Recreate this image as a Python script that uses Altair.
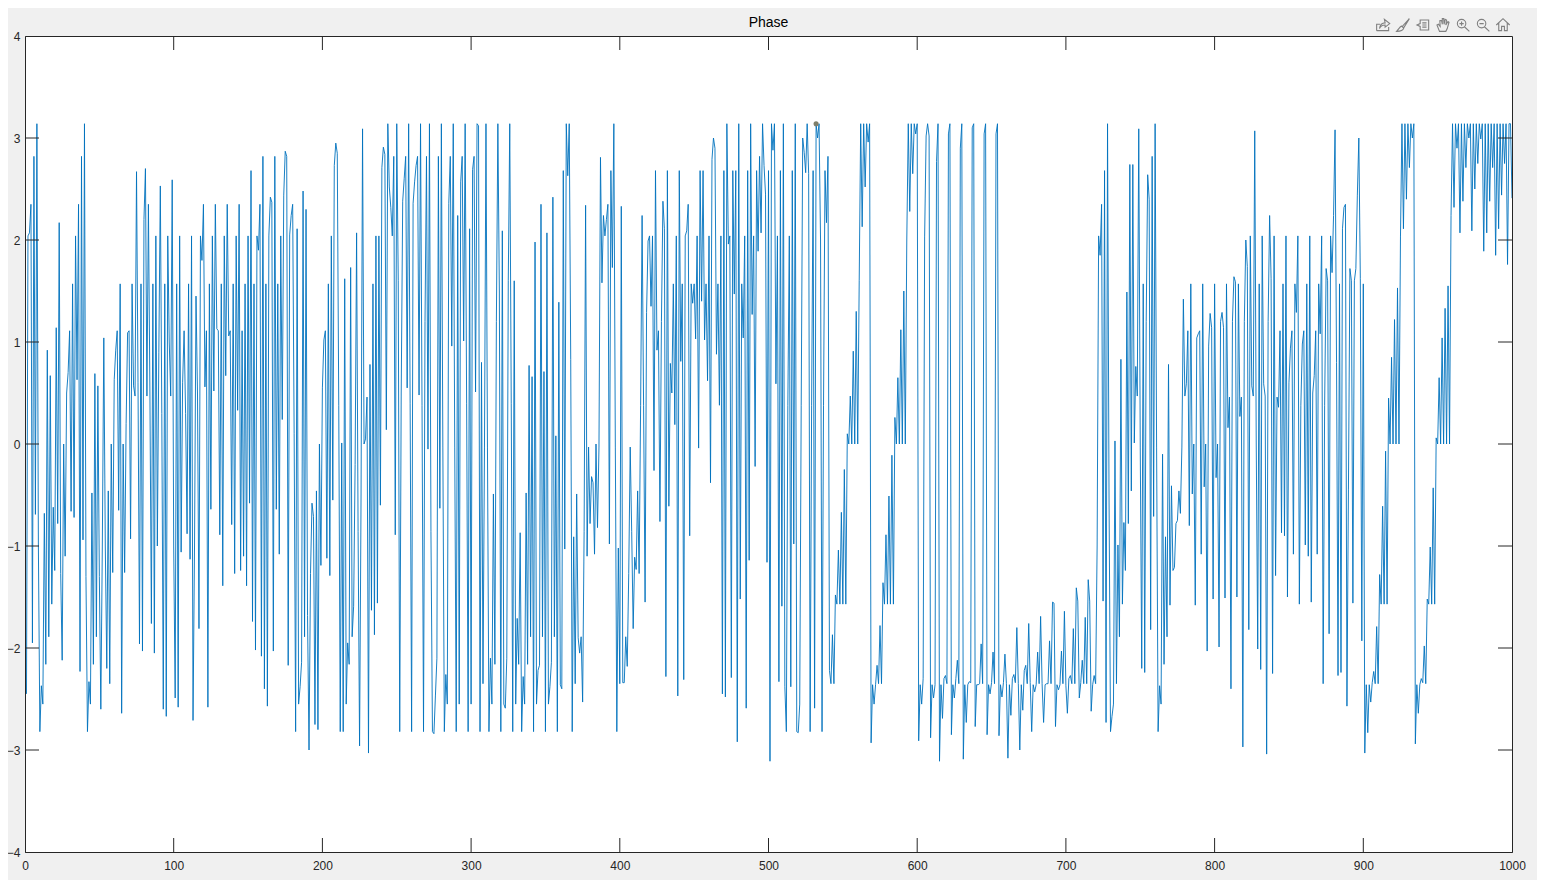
import altair as alt
import pandas as pd

phase_1 = [
-2.45,2.04,2.07,2.35,-1.95,2.82,-0.69,3.14,-1.0,-2.82,
-2.37,-2.55,-0.68,-2.16,0.92,-1.89,0.67,-1.57,-0.62,-1.24,
1.14,-0.78,2.17,-1.27,-2.12,0,-1.1,0.5,0.7,1.11,
-0.66,1.57,-0.72,2.04,0.63,2.35,-2.23,2.82,-0.94,3.14,
-1.3,-2.82,-2.33,-2.55,-0.48,-2.16,0.69,-1.89,0.57,-1.3,
-2.6,-1.0,1.04,-1.0,-2.2,-0.46,-2.35,0,-1.26,0.63,
0.92,1.11,-0.65,1.57,-2.64,0,-1.26,0.2,1.09,1.11,
-0.93,1.57,0.57,0.47,2.67,0.6,-1.96,1.57,-2.03,2.2,
2.7,0.47,2.35,0.5,-1.76,1.57,-2.05,2.04,-1,0.9,
2.53,0.3,-2.6,1.57,-2.67,2.04,1,0.47,2.59,-1,
-2.49,1.57,-2.58,2.04,-1.06,0.6,1.11,0.3,-0.88,1.57,
-1.13,2.04,-2.71,-1,1.45,0.5,-1.81,2.04,1.8,2.35,
0.56,1.11,-2.58,1.57,-0.64,2.04,0.52,2.35,1.13,1.11,
-0.89,1.57,-1.39,2.04,0.67,2.35,1.06,1.11,-0.79,1.57,
-1.27,2.04,0.33,2.35,-1.24,1.11,-1.1,1.57,-1.39,2.04,
-0.58,2.68,-1.74,1.57,-2.02,2.04,1.9,2.35,-2.08,2.82,
-2.4,1.57,-2.57,2.04,2.42,2.37,-2.03,2.82,-0.64,1.57,
-1.08,2.04,0.24,2.44,2.87,2.82,-2.17,2.05,2.24,2.35,
0.1,-2.82,2.11,-2.55,-2.38,-2.14,2.48,-1.89,2.3,-1.68,
-3.0,-1.27,-0.58,-0.71,-2.75,-0.46,-2.8,0,-1.19,0.55,
]
phase_2 = [
1.02,1.11,-1.12,1.57,-1.29,2.04,-0.55,2.73,2.95,2.85,
0.38,-2.82,0.01,-2.82,1.62,-2.55,-1.95,-2.16,1.73,-1.89,
-1.59,-0.2,2.07,-0.86,-2.96,-0.5,3.09,0,0.05,0.46,
-3.03,0.78,-1.63,1.57,-1.87,2.04,-1.56,2.04,-0.6,2.71,
2.91,2.84,0.14,3.14,2.52,2.32,2.04,2.82,-0.89,3.14,
1.6,-2.82,0.5,2.38,2.6,2.82,0.55,3.14,0.4,-2.82,
2.36,2.57,2.73,2.82,0.48,3.14,0.38,-2.82,1.2,2.82,
-0.05,3.14,-0.86,-2.82,-2.84,-2.47,-2.1,2.82,-0.63,3.14,
-0.03,-2.82,-2.26,-2.55,2.36,2.82,0.96,3.14,-0.03,-2.82,
2.24,-2.55,2.57,2.82,1.01,3.14,0.4,-2.82,2.11,-2.55,
2.69,2.82,0.51,3.14,3.12,-2.82,0.8,-2.35,-0.03,3.14,
-0.03,-2.82,-2.1,-2.55,-0.49,-2.16,1.2,3.14,1.5,-2.82,
2.09,-2.55,-2.59,-2.1,1.6,3.14,0.4,-2.82,1.6,-2.55,
-1.71,-2.16,-0.87,-2.82,-2.28,-2.55,-0.48,-2.16,0.77,-1.89,
0.66,-2.82,1.98,-2.55,-2.22,-2.17,2.35,-1.89,0.71,-2.82,
2.07,-2.55,-2.38,-2.14,2.42,-1.89,0.08,-2.82,1.39,-2.36,
-2.4,2.68,-1.03,3.14,2.63,3.14,0.83,-2.82,-0.91,-2.35,
-0.49,-1.9,-2.05,-1.89,-2.53,-0.86,2.34,-1.1,-0.03,-0.78,
-0.32,-0.38,-1.08,0,-0.82,-0.03,2.81,1.58,2.24,2.04,
2.2,2.35,-0.98,2.68,1.73,3.14,-0.03,-2.82,-1.02,-2.35,
]
phase_3 = [
2.33,-2.34,-2.34,-1.89,-2.18,-1.27,-0.03,-0.86,-1.81,-1.11,
-1.23,-0.46,-1.27,0.38,2.24,0.38,-1.55,1.29,1.99,2.04,
1.35,2.04,-0.26,2.68,0.92,1.11,-0.76,1.2,2.38,2.11,
-2.28,2.68,-0.61,0.79,0.5,1.57,0.19,2.04,-2.47,2.68,
0.81,1.57,-2.31,2.04,2.09,2.35,-0.9,1.57,1.38,1.57,
1.03,2.04,-0.04,2.68,1.4,2.68,1.02,1.57,0.62,2.04,
-0.38,2.79,3,2.9,0.88,1.57,0.38,2.04,-2.45,2.68,
-2.48,3.14,1.96,2.04,-2.29,2.68,1.47,2.68,-2.92,3.14,
-1.52,1.57,1.04,2.04,-2.59,2.68,-1.14,3.14,1.27,2.04,
-0.22,2.68,1.89,2.82,2.07,3.14,2.73,2.45,-1.16,2.68,
-3.11,3.14,2.88,3.14,0.59,2.04,-2.33,2.68,-1.59,3.14,
-2.38,-2.82,0.38,2.04,-2.38,2.68,-0.98,3.14,-2.82,-2.83,
-2.55,0.38,3,2.86,2.66,3.14,2.65,-2.82,0.38,2.68,
-2.59,3.14,3,3.14,2.0,-2.82,0.38,2.68,2.17,2.82,
-2.22,-2.35,-1.87,-2.35,-1.48,-1.57,-1.04,-1.57,-0.67,-1.57,
-0.25,-1.57,0.1,0,0.47,0,0.91,0,1.3,0,
1.6,3.14,2.13,3.14,2.52,3.14,2.96,3.14,-2.93,-2.36,
-2.55,-2.36,-2.17,-2.35,-1.78,-2.35,-1.36,-1.57,-0.89,-1.57,
-0.51,-1.57,-0.11,-1.57,0.26,0,0.65,0,1.12,0,
1.5,0,2.0,3.14,2.28,3.14,2.65,3.14,3.04,3.14,
]
phase_4 = [
-2.91,-2.36,-2.55,-2.3,2.03,3.02,3.14,3.02,-2.88,-2.36,
-2.49,-2.36,2.77,3.14,-3.11,-2.36,-2.69,-2.3,-2.27,-2.35,
3.04,3.14,-2.85,-2.36,-2.49,-2.3,-2.12,-2.35,2.9,3.14,
-3.09,-2.36,-2.73,-2.36,-2.33,-2.34,3.1,3.14,-2.77,-2.36,
-2.36,-2.35,-1.96,-2.35,3.04,3.14,-2.85,-2.36,-2.45,-2.34,
-2.04,-2.35,3.04,3.14,-2.86,-2.36,-2.48,-2.34,-2.06,-2.35,
-3.08,-2.36,-2.66,-2.3,-2.26,-2.34,-1.8,-2.35,-3,-2.36,
-2.61,-2.22,-2.17,-2.35,-1.76,-2.34,-2.82,-2.36,-2.43,-2.36,
-2.04,-2.35,-1.69,-2.35,-2.73,-2.36,-2.35,-2.35,-1.93,-2.35,
-1.55,-1.56,-2.77,-2.36,-2.41,-2.36,-2.03,-2.35,-1.64,-2.37,
-2.64,-2.3,-2.27,-2.35,-1.81,-2.35,-1.41,-1.54,-2.49,-2.34,
-2.12,-2.35,-1.7,-2.35,-1.33,-1.54,-2.62,-2.36,-2.27,-2.35,
-1.0,2.04,1.85,2.35,-1.54,2.68,-2.73,3.14,-0.5,-2.82,
-2.67,-2.55,0.03,-2.35,-0.99,-1.89,0.83,-1.57,-0.77,-1.24,
1.49,-0.78,2.74,-0.46,2.74,0.01,0.76,0.47,3.09,-0.03,
-2.2,1.57,-2.24,1.2,2.64,2.4,-1.82,2.82,-0.71,3.14,
-0.03,-2.82,-2.37,-2.55,-0.1,-2.16,-0.91,-1.89,0.78,-1.58,
-0.41,-1.24,-1.21,-0.78,-0.75,-0.46,-0.68,-0.03,1.42,0.47,
0.59,1.11,-0.8,1.57,-0.49,0,-1.58,1.04,1.08,1.11,
-1.08,1.57,-0.42,0,-2.03,0.96,1.28,1.14,-1.52,1.57,
]
phase_5 = [
-0.33,0,-1.99,1.2,1.29,1.14,-1.51,1.57,0.16,0.46,
-2.4,1.2,1.64,1.59,-1.5,1.57,0.27,0.46,-2.97,1.2,
2.0,1.74,-1.82,2.04,0.57,0.47,3.07,0,-2.01,1.57,
-2.21,2.04,0.59,0.47,-3.04,1.2,2.24,1.62,-2.25,2.04,
-1.29,0.46,0.36,1.11,-0.87,1.57,-0.9,2.04,-1.5,0.6,
0.94,1.11,-1.08,1.57,1.29,2.04,-1.57,0.38,0.98,1.11,
-0.99,1.57,-1.1,2.04,-1.55,0.5,0.67,1.11,-1.08,1.57,
1.08,2.04,-2.35,0.38,1.72,1.6,-1.86,2.04,1.68,2.24,
3.08,0.8,-2.27,1.57,-2.24,2.11,2.32,2.35,-2.57,-0.45,
1.72,1.6,-1.56,1.6,1.72,2.44,3,1.62,-1.93,1.57,
-3.03,-2.36,-2.83,-2.36,-2.53,-2.34,-2.23,-2.35,-1.79,-2.35,
-1.28,-1.57,-0.61,-1.57,-0.07,-1.57,0.45,0,0.85,0,
1.22,0,1.53,0,2.03,3.14,2.11,3.14,2.4,3.14,
2.71,3.14,3,3.14,-2.94,-2.36,-2.64,-2.36,-2.3,-2.34,
-1.98,-2.35,-1.52,-1.57,-1.01,-1.57,-0.43,-1.57,0.06,0,
0.65,0,1.04,0,1.33,0,1.55,0,2.24,3.14,
2.32,3.14,2.9,3.14,2.07,3.14,2.38,3.14,2.71,3.14,
3,3.14,2.09,3.14,2.5,3.14,2.75,3.14,2.99,3.14,
1.89,3.14,2.07,3.14,2.38,3.14,2.71,3.14,1.85,3.14,
2.11,3.14,2.44,3.14,2.75,3.14,1.76,3.14,3.14,2.41,
]
x_ticks = [0, 100, 200, 300, 400, 500, 600, 700, 800, 900, 1000]
y_ticks = [-4, -3, -2, -1, 0, 1, 2, 3, 4]
marker_x = [532]
marker_y = [3.14]
title_text = "Phase"

phase = phase_1 + phase_2 + phase_3 + phase_4 + phase_5
df = pd.DataFrame({"i": range(1, len(phase) + 1), "phase": phase})
FONT = "Liberation Sans"
INK = "#262626"
W, H = 1487, 816
xs = alt.Scale(domain=[0, 1000], nice=False, zero=False)
ys = alt.Scale(domain=[-4, 4], nice=False, zero=False)

line = alt.Chart(df).mark_line(color="#0072BD", strokeWidth=0.9, interpolate="linear", clip=True).encode(
    x=alt.X("i:Q", scale=xs, axis=alt.Axis(values=x_ticks, title=None, grid=False, tickSize=0,
            labelFont=FONT, labelFontSize=12, labelColor=INK, labelPadding=8,
            domainColor=INK, labelFlush=False, labelOverlap=False, format="d")),
    y=alt.Y("phase:Q", scale=ys, axis=alt.Axis(values=y_ticks, title=None, grid=False, tickSize=0,
            labelFont=FONT, labelFontSize=12, labelColor=INK, labelPadding=5,
            domainColor=INK, labelOverlap=False, format="d")),
)

def ticks_x(y0, y1):
    return alt.Chart(pd.DataFrame({"t": x_ticks[1:-1]})).mark_rule(color=INK, strokeWidth=1).encode(
        x=alt.X("t:Q", scale=xs), y=alt.value(y0), y2=alt.value(y1))

def ticks_y(x0, x1):
    return alt.Chart(pd.DataFrame({"t": y_ticks[1:-1]})).mark_rule(color=INK, strokeWidth=1).encode(
        y=alt.Y("t:Q", scale=ys), x=alt.value(x0), x2=alt.value(x1))

tick_layers = [ticks_x(H - 14, H), ticks_x(0, 14), ticks_y(0, 14), ticks_y(W - 14, W)]

marker = alt.Chart(pd.DataFrame({"x": marker_x, "y": marker_y})).mark_point(
    filled=True, color="#7f7f6a", size=26, opacity=1).encode(
    x=alt.X("x:Q", scale=xs), y=alt.Y("y:Q", scale=ys))

title_mark = alt.Chart(pd.DataFrame({"t": [title_text]})).mark_text(
    font=FONT, fontSize=14, color="#000000", align="center", baseline="middle").encode(
    text="t:N", x=alt.value(743.5), y=alt.value(-13))

icons = [
    (1358, "M-0.9,0.8 L-0.9,-0.1 L-0.4,-0.1 M-0.9,0.8 L0.8,0.8 L0.8,0.3 M-0.5,0.5 C-0.4,-0.1 0,-0.3 0.3,-0.3 L0.2,-0.8 L0.95,-0.2 L0.3,0.3 L0.3,0 C0,0 -0.3,0.1 -0.5,0.5 Z"),
    (1378, "M0.9,-0.9 L-0.1,0.2 L0.1,0.4 L0.9,-0.9 Z M-0.2,0.15 L0.1,0.45 C0,0.9 -0.5,0.9 -0.9,0.9 C-0.6,0.6 -0.5,0.3 -0.2,0.15 Z"),
    (1398, "M-0.4,-0.7 L0.8,-0.7 L0.8,0.7 L-0.4,0.7 L-0.4,0.2 L-0.85,0 L-0.4,-0.2 Z M-0.1,-0.3 L0.5,-0.3 M-0.1,0 L0.5,0 M-0.1,0.3 L0.5,0.3"),
    (1418, "M-0.5,0.9 L-0.85,0 L-0.65,-0.1 L-0.4,0.2 L-0.45,-0.6 L-0.2,-0.65 L-0.1,-0.1 L-0.1,-0.9 L0.1,-0.9 L0.15,-0.1 L0.3,-0.8 L0.5,-0.7 L0.4,0 L0.7,-0.5 L0.85,-0.4 L0.6,0.5 L0.4,0.9 Z"),
    (1438, "M0.4,-0.2 A0.6,0.6 0 1 1 -0.8,-0.2 A0.6,0.6 0 1 1 0.4,-0.2 Z M0.2,0.25 L0.9,0.9 M-0.2,-0.5 L-0.2,0.1 M-0.5,-0.2 L0.1,-0.2"),
    (1458, "M0.4,-0.2 A0.6,0.6 0 1 1 -0.8,-0.2 A0.6,0.6 0 1 1 0.4,-0.2 Z M0.2,0.25 L0.9,0.9 M-0.5,-0.2 L0.1,-0.2"),
    (1478, "M-0.95,0 L0,-0.9 L0.95,0 M-0.6,-0.3 L-0.6,0.8 L-0.2,0.8 L-0.2,0.2 L0.2,0.2 L0.2,0.8 L0.6,0.8 L0.6,-0.3"),
]
icon_layers = [
    alt.Chart(pd.DataFrame({"a": [0]})).mark_point(shape=p, size=200, filled=False, color="#808080",
        strokeWidth=1.1, opacity=1).encode(x=alt.value(px), y=alt.value(-11))
    for px, p in icons
]

chart = alt.layer(line, *tick_layers, marker, title_mark, *icon_layers).properties(
    width=W, height=H,
    background="#f0f0f0",
    padding={"left": 17, "top": 28, "right": 25, "bottom": 28},
    autosize=alt.AutoSizeParams(type="none"),
).configure_view(fill="#ffffff", stroke=INK, strokeWidth=1)

chart.save("out.html", embed_options={"renderer": "svg", "actions": False})
